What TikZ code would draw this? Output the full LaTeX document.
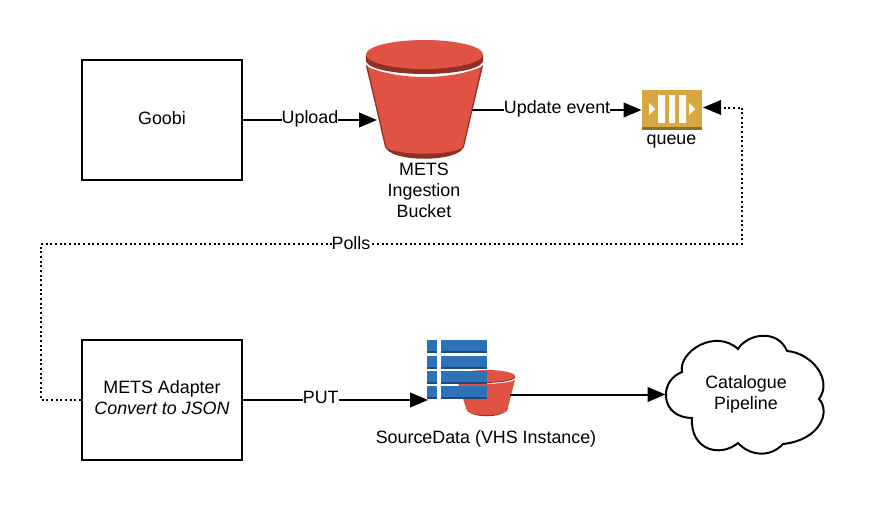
\documentclass[tikz,border=0pt]{standalone}
\usepackage{fontspec}
\setmainfont{Liberation Sans}
\usetikzlibrary{arrows.meta,calc}
\definecolor{bred}{HTML}{E05243}
\definecolor{bdark}{HTML}{8C3123}
\definecolor{qgold}{HTML}{D9A741}
\definecolor{qdark}{HTML}{8C6D2C}
\definecolor{tblue}{HTML}{2E73B8}
\definecolor{tdark}{HTML}{1F4B7A}
\tikzset{
  x=0.75pt,y=-0.75pt,
  boxnode/.style={draw=black,line width=1.5pt,minimum width=120pt,minimum height=90pt,inner sep=0pt,align=center},
  txt/.style={inner sep=0pt,align=center,font=\fontsize{13.4pt}{15.8pt}\selectfont},
  anchorbox/.style={inner sep=0pt,minimum width=#1},
  link/.style={line width=1.5pt,-{Triangle[length=13.5pt,width=11pt]}},
  dotlink/.style={line width=1.5pt,dotted,line cap=butt},
  lab/.style={txt,fill=white,inner xsep=0pt,inner ysep=1pt}
}
\begin{document}
\begin{tikzpicture}
\useasboundingbox (0,0) rectangle (874,510);
\fill[white] (0,0) rectangle (874,510);
% large bucket
\fill[bdark] (385,146) .. controls (388,163) and (461,163) .. (464,146) -- cycle;
\fill[bred] (366,66) .. controls (380,73) and (403,77) .. (424.5,77)
  .. controls (446,77) and (469,73) .. (483,66)
  -- (463,147) .. controls (455,156) and (394,156) .. (386,147) -- cycle;
\fill[bdark] (366,65) -- (367.5,66) -- (386.5,148) -- (385,147) -- cycle;
\fill[bdark] (483,65) -- (481.5,66) -- (462.5,148) -- (464,147) -- cycle;
\fill[bdark] (366,54) -- (366,62) .. controls (376,78) and (473,78) .. (483,62) -- (483,54) -- cycle;
\fill[bred] (424.5,54.5) ellipse[x radius=58.5,y radius=14.5];
% queue
\fill[qgold] (642,90) rectangle (702,127);
\fill[qdark] (642,127) rectangle (702,130);
\fill[white] (658,95) rectangle (665,123) (669,95) rectangle (675,123) (679,95) rectangle (686,123);
\fill[white] (649,103) -- (655,109) -- (649,115) -- cycle (689,103) -- (695,109) -- (689,115) -- cycle;
% small bucket
\fill[bdark] (466,408) .. controls (468,419) and (505,419) .. (508,408) -- cycle;
\fill[bred] (457,380) .. controls (468,385) and (505,385) .. (515,380)
  -- (507,411) .. controls (500,416.5) and (474,416.5) .. (467,411) -- cycle;
\fill[bdark] (458,376) -- (458,378) .. controls (465,384.5) and (508,384.5) .. (515,378) -- (515,376) -- cycle;
\fill[bred] (486.5,376) ellipse[x radius=28.5,y radius=6];
% table
\foreach \t in {340,355.5,371,386}{
  \fill[tblue] (427,\t) rectangle (437,\t+11);
  \fill[tblue] (441,\t) rectangle (487,\t+11);
  \fill[tdark] (427,\t+11) rectangle (437,\t+13);
  \fill[tdark] (441,\t+11) rectangle (487,\t+13);
}
% nodes
\node[boxnode] (goobi) at (162,120) {};
\node[boxnode] (adapter) at (162,400) {};
\node[txt] (goobitext) at (162,118) {Goobi};
\node[txt] (adaptertext) at (162,398) {METS Adapter\\\textit{Convert to JSON}};
\node[anchorbox=95pt,minimum height=40pt] (bucket) at (424.5,110) {};
\node[txt] (bucketlabel) at (424,190) {METS\\Ingestion\\Bucket};
\node[inner sep=0pt,minimum width=45pt,minimum height=30pt] (queue) at (672,110) {};
\node[txt] (queuelabel) at (671.5,142) {queue};
\node[inner sep=0pt,minimum width=62.25pt,minimum height=30pt] (vhs) at (469,395) {};
\node[txt] (vhslabel) at (486,438.5) {SourceData (VHS Instance)};
% cloud
\draw[line width=1.5pt,fill=white] (666,397)
  .. controls (665,385) and (672,376) .. (682,372)
  .. controls (678,352) and (715,328) .. (738,349)
  .. controls (748,333) and (778,329) .. (787,351)
  .. controls (812,353) and (833,380) .. (819,399)
  .. controls (831,412) and (820,440) .. (783,444)
  .. controls (770,458) and (750,456) .. (738,443)
  .. controls (720,458) and (690,450) .. (692,418)
  .. controls (678,418) and (667,410) .. (666,397) -- cycle;
\node[inner sep=0pt,minimum width=114pt,minimum height=60pt] (cloud) at (745,394) {};
\node[txt] (cloudtext) at (746,394) {Catalogue\\Pipeline};
% connectors
\draw[link] (goobi.east) -- (377,120) node[lab,pos=0.5,yshift=1pt] (uploadlab) {Upload};
\coordinate (bs) at (472,110);
\coordinate (qin) at (641.5,110);
\draw[link] (bs) -- (qin) node[lab,pos=0.502,yshift=1pt] (updatelab) {Update event};
\coordinate (p1) at (41,400);
\coordinate (p2) at (41,244);
\coordinate (p3) at (742,244);
\coordinate (p4) at (742,107.5);
\coordinate (p5) at (718,107.5);
\coordinate (p6) at (703,107.5);
\draw[dotlink] (adapter.west) -- (p1) -- (p2) -- (p3) -- (p4) -- (p5);
\fill[black] (p6) -- (721,100) -- (721,115) -- cycle;
\node[lab] (polls) at (351,243) {Polls};
\draw[link] (adapter.east) -- (428,400) node[lab,pos=0.42,yshift=2pt] (putlab) {PUT};
\coordinate (vout) at (510,394.5);
\draw[link] (vout) -- (665.5,394.5);
\end{tikzpicture}
\end{document}
